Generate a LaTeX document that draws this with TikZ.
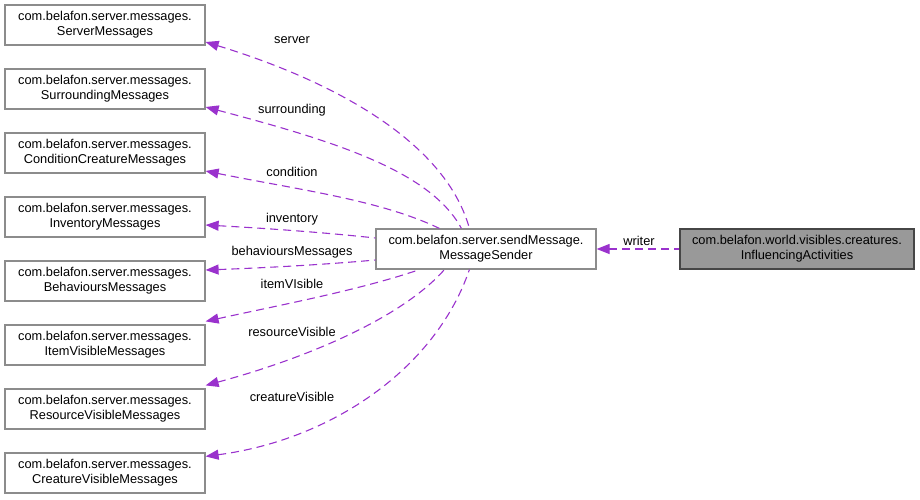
\documentclass[tikz,border=0pt]{standalone}
\usepackage{fontspec}
\setmainfont{Liberation Sans}
\usetikzlibrary{arrows.meta,positioning}
\definecolor{edgecol}{HTML}{9A32CD}
\definecolor{boxline}{HTML}{8C8C8C}
\definecolor{boxfill}{HTML}{999999}
\begin{document}
\begin{tikzpicture}[x=1pt, y=-1pt,
    font=\fontsize{12.8}{15}\selectfont,
    cls/.style={draw=boxline, line width=1.2pt, fill=white, minimum width=200pt, minimum height=40pt, inner sep=0pt, align=center},
    edge/.style={draw=edgecol, line width=1.1pt, dash pattern=on 8pt off 5pt, {Triangle[length=13pt,width=10pt]}-},
    lbl/.style={inner sep=1pt}]
    \useasboundingbox (0,0) rectangle (920,499);
    % left column of message classes
    \foreach \i/\nm/\txt in {0/srv/ServerMessages, 1/surr/SurroundingMessages, 2/cond/ConditionCreatureMessages, 3/inv/InventoryMessages, 4/beh/BehavioursMessages, 5/item/ItemVisibleMessages, 6/res/ResourceVisibleMessages, 7/crea/CreatureVisibleMessages}{%
        \node[cls] (\nm) at (105, 25+64*\i) {com.belafon.server.messages.\\\txt};
    }
    \node[cls, minimum width=220pt] (sender) at (486,249) {com.belafon.server.sendMessage.\\MessageSender};
    \node[cls, minimum width=234pt, draw=gray!55!black, fill=boxfill] (infl) at (797,249) {com.belafon.world.visibles.creatures.\\InfluencingActivities};
    % associations
    \draw[edge] ([yshift=-17pt]srv.east) .. controls (330,80) and (445,140) .. ([xshift=94pt]sender.north west);
    \draw[edge] ([yshift=-18pt]surr.east) .. controls (330,140) and (430,170) .. ([xshift=86pt]sender.north west);
    \draw[edge] ([yshift=-18pt]cond.east) .. controls (300,190) and (380,200) .. ([xshift=64pt]sender.north west);
    \draw[edge] ([yshift=-8pt]inv.east) .. controls (260,228) and (320,232) .. ([yshift=11pt]sender.west);
    \draw[edge] ([yshift=11pt]beh.east) .. controls (260,268) and (320,265) .. ([yshift=-11pt]sender.west);
    \draw[edge] ([yshift=3pt]item.north east) .. controls (280,305) and (360,290) .. ([xshift=44pt]sender.south west);
    \draw[edge] ([yshift=3pt]res.north east) .. controls (300,360) and (400,320) .. ([xshift=69pt]sender.south west);
    \draw[edge] ([yshift=-4pt]crea.north east) .. controls (330,440) and (435,370) .. ([xshift=94pt]sender.south west);
    \draw[edge] (sender.east) -- (infl.west);
    % labels
    \node[lbl] at (292,40) {server};
    \node[lbl] at (292,110) {surrounding};
    \node[lbl] at (292,172) {condition};
    \node[lbl] at (292,219) {inventory};
    \node[lbl] at (292,252) {behavioursMessages};
    \node[lbl] at (292,284) {itemVIsible};
    \node[lbl] at (292,332) {resourceVisible};
    \node[lbl] at (292,397) {creatureVisible};
    \node[lbl] at (639,241) {writer};
\end{tikzpicture}
\end{document}
